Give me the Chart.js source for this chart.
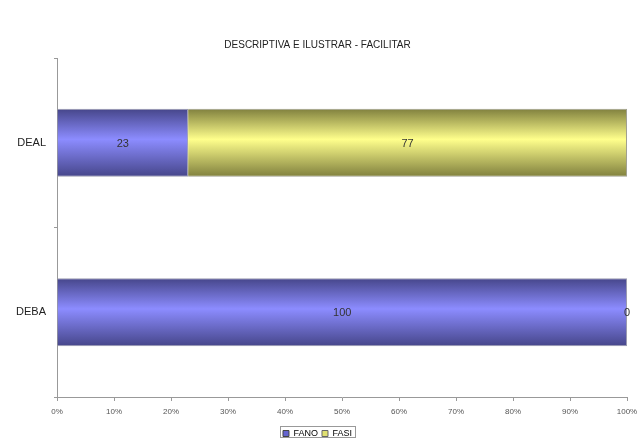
<!DOCTYPE html>
<html>
<head>
<meta charset="utf-8">
<script src="https://cdn.jsdelivr.net/npm/chart.js@4/dist/chart.umd.min.js"></script>
<style>
  html, body { margin: 0; padding: 0; background: #fff; }
  #wrap { width: 638px; height: 439px; }
</style>
</head>
<body>
<div id="wrap"><canvas id="myChart" width="638" height="439"></canvas></div>
<script>
const labels = ["DEAL", "DEBA"];
const fano = [23, 100];
const fasi = [77, 0];
const xTicks = ["0%", "10%", "20%", "30%", "40%", "50%", "60%", "70%", "80%", "90%", "100%"];

const FONT = "'Liberation Sans', Arial, sans-serif";

// vertical "cylinder" shading per bar
function shade(ctx, dark, light) {
  const chart = ctx.chart;
  const y = chart.scales && chart.scales.y;
  if (!y || ctx.type !== "data") return light;
  const c = y.getPixelForValue(ctx.dataIndex);
  const half = (y.height / labels.length) * 0.4 / 2;
  const g = chart.ctx.createLinearGradient(0, c - half, 0, c + half);
  g.addColorStop(0, dark);
  g.addColorStop(0.45, light);
  g.addColorStop(1, dark);
  return g;
}

const valueLabels = {
  id: "valueLabels",
  afterDatasetsDraw(chart) {
    const ctx = chart.ctx;
    ctx.save();
    ctx.font = "11px " + FONT;
    ctx.fillStyle = "#333";
    ctx.textAlign = "center";
    ctx.textBaseline = "middle";
    chart.data.datasets.forEach((ds, i) => {
      chart.getDatasetMeta(i).data.forEach((bar, j) => {
        ctx.fillText(ds.data[j], (bar.x + bar.base) / 2, bar.y + 1);
      });
    });
    ctx.restore();
  },
};

// border round the legend items
const legendBox = {
  id: "legendBox",
  afterDraw(chart) {
    const hb = chart.legend.legendHitBoxes;
    if (!hb || !hb.length) return;
    const x0 = hb[0].left - 3;
    const x1 = hb[hb.length - 1].left + hb[hb.length - 1].width + 3;
    const top = Math.min(Math.round(hb[0].top) - 2.5, chart.height - 12.5);
    const ctx = chart.ctx;
    ctx.save();
    ctx.strokeStyle = "#999";
    ctx.lineWidth = 1;
    ctx.strokeRect(Math.round(x0) + 0.5, top, Math.round(x1 - x0), 11);
    ctx.restore();
  },
};

const data = {
  labels: labels,
  datasets: [
    {
      label: "FANO",
      data: fano,
      backgroundColor: (c) => shade(c, "#46468a", "#8c8cff"),
      borderColor: "#9a9ab0",
      borderWidth: 1,
    },
    {
      label: "FASI",
      data: fasi,
      backgroundColor: (c) => shade(c, "#80803e", "#ffff8c"),
      borderColor: "#a0a090",
      borderWidth: 1,
    },
  ],
};

const config = {
  type: "bar",
  data: data,
  plugins: [valueLabels, legendBox],
  options: {
    responsive: false,
    animation: false,
    indexAxis: "y",
    categoryPercentage: 0.4,
    barPercentage: 1,
    layout: { padding: { top: 39, left: 8, right: 11, bottom: -9 } },
    scales: {
      x: {
        stacked: true,
        min: 0,
        max: 100,
        ticks: {
          stepSize: 10,
          autoSkip: false,
          maxRotation: 0,
          padding: 6,
          color: "#555",
          font: { family: FONT, size: 8 },
          callback: (v, i) => xTicks[i],
        },
        grid: { drawOnChartArea: false, color: "#999", tickLength: 4 },
        border: { color: "#999" },
        afterFit: (s) => { s.height = 28; s.paddingLeft = 0; s.paddingRight = 0; },
      },
      y: {
        stacked: true,
        ticks: {
          color: "#222",
          padding: 8,
          font: { family: FONT, size: 11 },
        },
        grid: { drawOnChartArea: false, color: "#999", tickLength: 3 },
        border: { color: "#999" },
        afterFit: (s) => { s.width = 49; },
      },
    },
    plugins: {
      title: {
        display: true,
        text: "DESCRIPTIVA E ILUSTRAR - FACILITAR",
        color: "#222",
        font: { family: FONT, size: 10, weight: "normal" },
        padding: { top: 0, bottom: 7 },
      },
      legend: {
        position: "bottom",
        labels: {
          boxWidth: 6,
          boxHeight: 6,
          padding: 4,
          color: "#222",
          font: { family: FONT, size: 9 },
          generateLabels: () => [
            { text: "FANO", fillStyle: "#6464d0", strokeStyle: "#444", lineWidth: 1, datasetIndex: 0 },
            { text: "FASI", fillStyle: "#e0e070", strokeStyle: "#666", lineWidth: 1, datasetIndex: 1 },
          ],
        },
      },
      tooltip: { enabled: false },
    },
  },
};

const myChart = new Chart(document.getElementById("myChart"), config);
</script>
</body>
</html>
